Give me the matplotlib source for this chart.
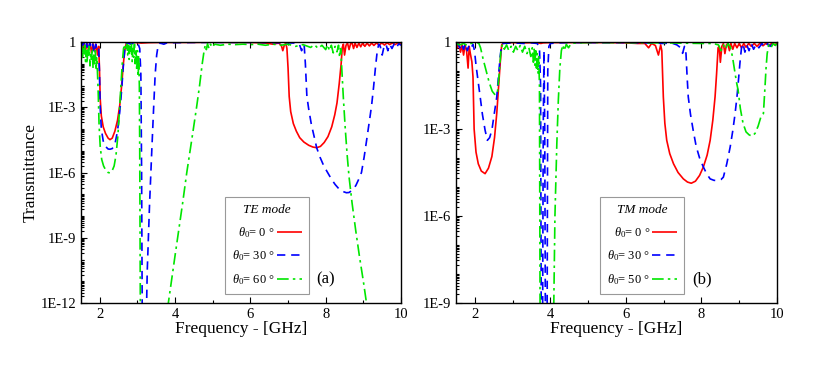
import numpy as np
import matplotlib
matplotlib.use("Agg")
import matplotlib.pyplot as plt
from matplotlib.ticker import FixedLocator, FixedFormatter, LogLocator, NullFormatter

plt.rcParams["font.family"] = ["Liberation Serif", "DejaVu Serif"]
plt.rcParams["mathtext.fontset"] = "custom"
plt.rcParams["mathtext.rm"] = "Liberation Serif"
plt.rcParams["mathtext.it"] = "Liberation Serif:italic"

# --------------------------------------------------------------------------- #
# Data: (frequency GHz, log10 transmittance)
# values below the axis floor just mean "off scale"
# --------------------------------------------------------------------------- #
te_0 = [
    (1.50, -0.05), (1.54, -0.3), (1.58, -0.05), (1.62, -0.4), (1.66, -0.05),
    (1.70, -0.35), (1.74, -0.05), (1.78, -0.5), (1.82, -0.08), (1.86, -0.4),
    (1.90, -0.1), (1.94, -0.6), (1.97, -0.2), (1.99, -1.2), (2.01, -2.6),
    (2.04, -3.4), (2.09, -3.9), (2.15, -4.2), (2.22, -4.42), (2.27, -4.49),
    (2.33, -4.42), (2.40, -4.1), (2.47, -3.6), (2.53, -2.9), (2.58, -2.0),
    (2.62, -1.1), (2.66, -0.4), (2.70, -0.08), (2.75, -0.03), (2.85, -0.02),
    (3.00, -0.03), (3.10, -0.05), (3.30, -0.03), (3.60, -0.02), (4.00, -0.02),
    (4.50, -0.02), (5.00, -0.01), (5.50, -0.02), (6.00, -0.02), (6.40, -0.05),
    (6.60, -0.1), (6.75, -0.05), (6.82, -0.15), (6.86, -0.4), (6.90, -0.15),
    (6.94, -0.05), (6.97, -0.3), (7.00, -1.2), (7.03, -2.5), (7.07, -3.2),
    (7.14, -3.75), (7.22, -4.1), (7.31, -4.4), (7.42, -4.6), (7.55, -4.75),
    (7.66, -4.83), (7.76, -4.86), (7.86, -4.8), (7.96, -4.62), (8.06, -4.35),
    (8.16, -3.9), (8.24, -3.35), (8.30, -2.8), (8.36, -1.9), (8.41, -1.0),
    (8.44, -0.25), (8.47, -0.1), (8.50, -0.6), (8.54, -0.15), (8.58, -0.05),
    (8.62, -0.35), (8.66, -0.08), (8.70, -0.05), (8.74, -0.3), (8.78, -0.05),
    (8.83, -0.25), (8.88, -0.05), (8.93, -0.22), (8.98, -0.05), (9.04, -0.2),
    (9.10, -0.05), (9.16, -0.18), (9.22, -0.05), (9.28, -0.16), (9.35, -0.04),
    (9.42, -0.15), (9.49, -0.04), (9.56, -0.14), (9.63, -0.04), (9.70, -0.12),
    (9.77, -0.04), (9.84, -0.12), (9.92, -0.04), (10.00, -0.1),
]

te_30 = [
    (1.50, -0.05), (1.53, -0.2), (1.57, -0.05), (1.61, -0.3), (1.65, -0.06),
    (1.69, -0.4), (1.73, -0.05), (1.77, -0.3), (1.81, -0.1), (1.85, -0.5),
    (1.89, -0.1), (1.93, -0.4), (1.97, -0.3), (1.99, -1.4), (2.01, -3.0),
    (2.04, -4.0), (2.09, -4.55), (2.15, -4.8), (2.22, -4.92), (2.27, -4.93),
    (2.33, -4.9), (2.40, -4.7), (2.47, -4.1), (2.53, -3.2), (2.58, -2.2),
    (2.62, -1.2), (2.66, -0.4), (2.70, -0.08), (2.75, -0.05), (2.82, -0.1),
    (2.90, -0.05), (2.96, -0.15), (3.02, -0.1), (3.06, -0.3), (3.09, -1.5),
    (3.11, -6.0), (3.13, -14.0), (3.22, -14.0), (3.26, -10.5), (3.32, -7.5),
    (3.38, -5.0), (3.43, -3.0), (3.47, -1.5), (3.51, -0.6), (3.55, -0.15),
    (3.60, -0.05), (3.70, -0.1), (3.80, -0.03), (4.00, -0.03), (4.50, -0.02),
    (5.00, -0.02), (5.50, -0.02), (6.00, -0.02), (6.50, -0.03), (7.00, -0.04),
    (7.20, -0.05), (7.30, -0.1), (7.36, -0.4), (7.40, -0.1), (7.43, -0.2),
    (7.46, -1.0), (7.50, -2.5), (7.55, -3.1), (7.62, -3.8), (7.70, -4.4),
    (7.76, -4.86), (7.85, -5.3), (7.95, -5.7), (8.05, -6.0), (8.15, -6.3),
    (8.25, -6.55), (8.35, -6.75), (8.45, -6.87), (8.55, -6.93), (8.62, -6.92),
    (8.70, -6.82), (8.80, -6.6), (8.88, -6.3), (8.95, -6.0), (9.02, -5.3),
    (9.08, -4.6), (9.13, -4.0), (9.18, -3.4), (9.22, -2.9), (9.27, -2.1),
    (9.32, -1.2), (9.37, -0.4), (9.41, -0.1), (9.45, -0.2), (9.50, -0.6),
    (9.55, -0.2), (9.60, -0.1), (9.65, -0.4), (9.70, -0.1), (9.76, -0.3),
    (9.82, -0.08), (9.88, -0.25), (9.94, -0.08), (10.00, -0.15),
]

te_60 = [
    (1.50, -0.5), (1.52, -0.2), (1.54, -0.8), (1.56, -0.3), (1.58, -0.6),
    (1.60, -0.15), (1.62, -0.9), (1.64, -0.4), (1.66, -1.0), (1.68, -0.3),
    (1.70, -0.7), (1.72, -0.2), (1.74, -1.1), (1.76, -0.5), (1.78, -0.8),
    (1.80, -0.3), (1.82, -1.2), (1.84, -0.6), (1.86, -1.0), (1.88, -0.4),
    (1.90, -1.3), (1.92, -0.7), (1.94, -1.5), (1.96, -2.5), (1.98, -3.8),
    (2.01, -4.8), (2.05, -5.4), (2.10, -5.7), (2.16, -5.9), (2.22, -6.0),
    (2.27, -6.02), (2.32, -5.95), (2.38, -5.7), (2.43, -5.2), (2.48, -4.3),
    (2.52, -3.2), (2.56, -2.0), (2.60, -0.9), (2.63, -0.3), (2.66, -0.1),
    (2.70, -0.4), (2.72, -0.1), (2.74, -0.6), (2.76, -0.15), (2.78, -0.8),
    (2.80, -0.2), (2.82, -0.5), (2.84, -0.1), (2.86, -0.9), (2.88, -0.3),
    (2.90, -0.7), (2.92, -0.1), (2.94, -1.0), (2.96, -0.3), (2.98, -1.3),
    (3.00, -0.4), (3.02, -1.6), (3.03, -0.6), (3.05, -2.0), (3.06, -5.0),
    (3.08, -14.0), (3.75, -13.0), (3.82, -12.0), (4.00, -9.8), (4.20, -7.4),
    (4.31, -6.0), (4.45, -4.4), (4.57, -3.0), (4.65, -2.0), (4.72, -1.0),
    (4.77, -0.4), (4.80, -0.15), (4.83, -0.35), (4.86, -0.08), (4.90, -0.3),
    (4.94, -0.1), (4.98, -0.25), (5.05, -0.1), (5.20, -0.15), (5.40, -0.1),
    (5.60, -0.12), (5.80, -0.1), (6.00, -0.12), (6.20, -0.1), (6.40, -0.15),
    (6.60, -0.1), (6.80, -0.15), (7.00, -0.1), (7.20, -0.2), (7.40, -0.12),
    (7.60, -0.25), (7.70, -0.12), (7.80, -0.3), (7.90, -0.15), (8.00, -0.35),
    (8.05, -0.12), (8.10, -0.4), (8.15, -0.15), (8.20, -0.5), (8.25, -0.2),
    (8.30, -0.45), (8.34, -0.15), (8.37, -0.7), (8.40, -0.3), (8.42, -1.0),
    (8.47, -2.6), (8.52, -4.0), (8.57, -5.2), (8.62, -6.2), (8.70, -7.4),
    (8.80, -8.7), (8.90, -9.9), (9.00, -11.0), (9.10, -12.2), (9.30, -14.0),
]

tm_0 = [
    (1.50, -0.05), (1.54, -0.2), (1.58, -0.05), (1.62, -0.35), (1.66, -0.1),
    (1.70, -0.45), (1.74, -0.1), (1.78, -0.3), (1.82, -0.9), (1.85, -0.15),
    (1.88, -0.4), (1.92, -0.68), (1.95, -1.2), (1.98, -3.0), (2.03, -3.8),
    (2.09, -4.2), (2.17, -4.45), (2.27, -4.54), (2.36, -4.35), (2.45, -3.95),
    (2.52, -3.3), (2.58, -2.45), (2.63, -1.5), (2.67, -0.74), (2.71, -0.1),
    (2.75, -0.03), (3.00, -0.02), (3.30, -0.03), (3.60, -0.02), (3.75, -0.05),
    (3.80, -0.03), (4.00, -0.02), (4.50, -0.02), (5.00, -0.02), (5.50, -0.02),
    (6.00, -0.03), (6.30, -0.05), (6.50, -0.05), (6.60, -0.2), (6.68, -0.05),
    (6.78, -0.12), (6.86, -0.45), (6.92, -0.1), (6.95, -0.3), (6.99, -1.89),
    (7.03, -2.8), (7.08, -3.39), (7.16, -3.85), (7.26, -4.2), (7.38, -4.5),
    (7.52, -4.72), (7.63, -4.83), (7.73, -4.87), (7.84, -4.8), (7.95, -4.6),
    (8.05, -4.31), (8.15, -3.9), (8.23, -3.39), (8.30, -2.7), (8.36, -1.89),
    (8.40, -1.1), (8.44, -0.2), (8.47, -0.15), (8.50, -0.7), (8.54, -0.15),
    (8.58, -0.05), (8.62, -0.4), (8.66, -0.1), (8.70, -0.05), (8.74, -0.3),
    (8.78, -0.05), (8.83, -0.25), (8.88, -0.05), (8.94, -0.2), (9.00, -0.05),
    (9.06, -0.2), (9.12, -0.05), (9.18, -0.18), (9.25, -0.05), (9.32, -0.15),
    (9.40, -0.05), (9.47, -0.15), (9.55, -0.04), (9.63, -0.13), (9.71, -0.04),
    (9.79, -0.12), (9.87, -0.04), (9.94, -0.1), (10.00, -0.04),
]

tm_30 = [
    (1.50, -0.1), (1.55, -0.05), (1.60, -0.2), (1.65, -0.05), (1.70, -0.25),
    (1.75, -0.05), (1.80, -0.3), (1.85, -0.1), (1.90, -0.2), (1.95, -0.08),
    (1.99, -0.3), (2.03, -0.8), (2.08, -1.3), (2.14, -1.89), (2.20, -2.5),
    (2.27, -3.04), (2.33, -3.39), (2.39, -3.3), (2.45, -3.04), (2.51, -2.5),
    (2.58, -1.89), (2.63, -1.1), (2.67, -0.5), (2.71, -0.08), (2.75, -0.05),
    (3.00, -0.03), (3.30, -0.05), (3.50, -0.03), (3.65, -0.05), (3.71, -0.2),
    (3.74, -1.5), (3.76, -11.0), (3.79, -11.0), (3.81, -3.0), (3.83, -0.3),
    (3.85, -3.0), (3.87, -11.0), (3.91, -11.0), (3.93, -1.0), (3.96, -0.15),
    (4.00, -0.05), (4.20, -0.03), (4.50, -0.02), (5.00, -0.02), (5.50, -0.02),
    (6.00, -0.02), (6.50, -0.03), (7.00, -0.05), (7.20, -0.03), (7.35, -0.1),
    (7.45, -0.2), (7.50, -0.39), (7.55, -0.15), (7.59, -0.4), (7.62, -1.2),
    (7.65, -1.89), (7.71, -2.5), (7.78, -3.04), (7.86, -3.6), (7.95, -4.0),
    (8.05, -4.31), (8.14, -4.55), (8.23, -4.72), (8.33, -4.77), (8.44, -4.78),
    (8.52, -4.74), (8.58, -4.66), (8.67, -4.2), (8.76, -3.62), (8.83, -3.05),
    (8.89, -2.47), (8.94, -1.89), (8.98, -1.31), (9.02, -0.7), (9.06, -0.2),
    (9.10, -0.05), (9.15, -0.35), (9.20, -0.1), (9.26, -0.3), (9.32, -0.05),
    (9.38, -0.25), (9.45, -0.08), (9.52, -0.2), (9.60, -0.05), (9.68, -0.18),
    (9.75, -0.06), (9.82, -0.15), (9.90, -0.05), (10.00, -0.1),
]

tm_50 = [
    (1.50, -0.05), (1.60, -0.1), (1.70, -0.05), (1.80, -0.12), (1.90, -0.05),
    (2.00, -0.03), (2.10, -0.03), (2.15, -0.2), (2.22, -0.6), (2.30, -1.0),
    (2.38, -1.4), (2.46, -1.7), (2.54, -1.83), (2.60, -1.7), (2.65, -1.0),
    (2.69, -0.3), (2.73, -0.08), (2.78, -0.25), (2.84, -0.1), (2.90, -0.3),
    (2.96, -0.15), (3.02, -0.35), (3.08, -0.15), (3.14, -0.3), (3.20, -0.12),
    (3.26, -0.35), (3.32, -0.15), (3.38, -0.4), (3.43, -0.2), (3.48, -0.5),
    (3.52, -0.2), (3.55, -0.7), (3.57, -0.25), (3.59, -0.8), (3.61, -0.3),
    (3.63, -0.9), (3.65, -0.4), (3.67, -1.1), (3.69, -0.5), (3.71, -1.5),
    (3.73, -11.0), (4.07, -11.0), (4.12, -6.0), (4.17, -3.5), (4.21, -2.0),
    (4.25, -0.9), (4.29, -0.3), (4.33, -0.1), (4.37, -0.3), (4.42, -0.08),
    (4.48, -0.2), (4.55, -0.05), (4.70, -0.03), (5.00, -0.02), (5.50, -0.02),
    (6.00, -0.02), (6.50, -0.03), (7.00, -0.03), (7.50, -0.04), (8.00, -0.05),
    (8.30, -0.05), (8.45, -0.1), (8.52, -0.3), (8.58, -0.1), (8.64, -0.25),
    (8.70, -0.05), (8.76, -0.15), (8.82, -0.5), (8.88, -1.0), (8.93, -1.4),
    (8.97, -1.66), (9.03, -2.3), (9.10, -2.8), (9.18, -3.1), (9.26, -3.2),
    (9.34, -3.25), (9.42, -3.15), (9.50, -2.9), (9.57, -2.6), (9.64, -2.47),
    (9.68, -1.6), (9.71, -0.9), (9.74, -0.4), (9.78, -0.1), (9.84, -0.2),
    (9.90, -0.05), (9.96, -0.12), (10.00, -0.05),
]

te_labels = [r"$\theta_{\mathit{0}}$= 0 °", r"$\theta_{\mathit{0}}$= 30 °", r"$\theta_{\mathit{0}}$= 60 °"]
tm_labels = [r"$\theta_{\mathit{0}}$= 0 °", r"$\theta_{\mathit{0}}$= 30 °", r"$\theta_{\mathit{0}}$= 50 °"]

COLORS = ["#ff0000", "#0000ff", "#00e600"]
STYLES = [(0, ()), (0, (5, 3.5)), (0, (7, 2.5, 1.5, 2.5))]


def unzip(pairs):
    f = np.array([p[0] for p in pairs])
    t = 10.0 ** np.array([p[1] for p in pairs])
    return f, t


def setup_axis(ax, ymin_exp, ylabels):
    ax.set_yscale("log")
    ax.set_xlim(1.5, 10)
    ax.set_ylim(10.0 ** ymin_exp, 1.0)
    ax.xaxis.set_major_locator(FixedLocator([2, 4, 6, 8, 10]))
    ax.xaxis.set_minor_locator(FixedLocator([3, 5, 7, 9]))
    majors = [10.0 ** e for e in range(ymin_exp, 1, 3)]
    ax.yaxis.set_major_locator(FixedLocator(majors))
    ax.yaxis.set_major_formatter(FixedFormatter(ylabels))
    ax.yaxis.set_minor_locator(LogLocator(base=10, subs=np.arange(1, 10), numticks=100))
    ax.yaxis.set_minor_formatter(NullFormatter())
    ax.tick_params(which="both", direction="in", top=True, right=False,
                   labelsize=10.5, width=0.8)
    ax.tick_params(which="major", length=4.5)
    ax.tick_params(which="minor", length=2.5)
    for s in ax.spines.values():
        s.set_linewidth(1.0)
    ax.set_xlabel("Frequency - [GHz]", fontsize=12.5, labelpad=0)


fig = plt.figure(figsize=(8.17, 3.66), dpi=100)
ax1 = fig.add_axes([81 / 817, 1 - 303 / 366, 320 / 817, 261 / 366])
ax2 = fig.add_axes([456 / 817, 1 - 303 / 366, 321 / 817, 261 / 366])

for ax, series, labels, title, tag, ymin, ylabs in [
    (ax1, [te_0, te_30, te_60], te_labels, "TE mode", "(a)", -12,
     ["1E-12", "1E-9", "1E-6", "1E-3", "1"]),
    (ax2, [tm_0, tm_30, tm_50], tm_labels, "TM mode", "(b)", -9,
     ["1E-9", "1E-6", "1E-3", "1"]),
]:
    for pairs, lab, c, ls in zip(series, labels, COLORS, STYLES):
        f, t = unzip(pairs)
        ax.plot(f, t, color=c, linestyle=ls, linewidth=1.2, label=lab)
    setup_axis(ax, ymin, ylabs)
    leg = ax.legend(loc="lower left", bbox_to_anchor=(0.45, 0.035),
                    markerfirst=False, fontsize=9, title=title,
                    title_fontproperties={"style": "italic", "size": 9.5},
                    frameon=True, fancybox=False, edgecolor="#808080",
                    handlelength=2.0, handletextpad=0.15, labelspacing=0.7,
                    borderpad=0.55, borderaxespad=0)
    leg.get_frame().set_linewidth(0.8)
    ax.text(0.765, 0.09, tag, transform=ax.transAxes, fontsize=12,
            ha="center", va="center")

ax1.set_ylabel("Transmittance", fontsize=12.5, labelpad=1)

fig.savefig("out.png", dpi=100)
